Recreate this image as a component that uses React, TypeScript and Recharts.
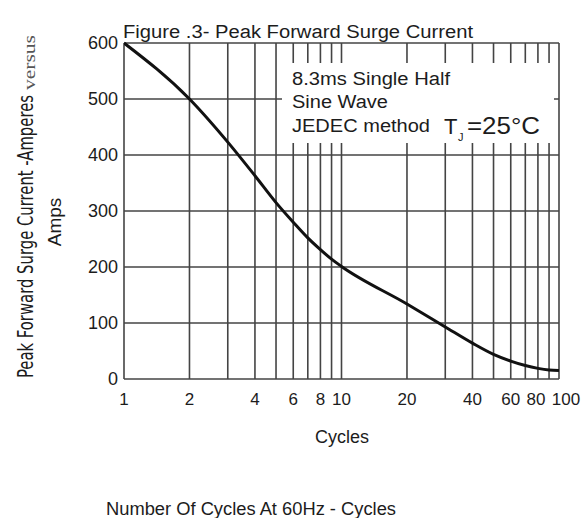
import React from 'react';
import { LineChart, Line, XAxis, YAxis, CartesianGrid } from 'recharts';

const cycles = [1, 2, 3, 4, 5, 6, 7, 8, 9, 10, 20, 30, 40, 50, 60, 70, 80, 90, 100];
const amps = [600, 500, 423, 363, 315, 280, 252, 231, 214, 201, 134, 93, 64, 44, 32, 24, 19, 16, 15];
const xGridTicks = [1, 2, 3, 4, 5, 6, 7, 8, 9, 10, 20, 30, 40, 50, 60, 70, 80, 90, 100];
const xLabelTicks = [1, 2, 4, 6, 8, 10, 20, 40, 60, 80, 100];
const yTicks = [0, 100, 200, 300, 400, 500, 600];

const data = cycles.map((c, i) => ({ cycles: c, amps: amps[i] }));

const FONT = "'Liberation Sans', Arial, sans-serif";
const TXT = '#1c1c1c';

const XTick = (props: any) => {
  const { x, y, payload } = props;
  const v = payload.value;
  if (!xLabelTicks.includes(v)) return null;
  const dx = v === 100 ? 7 : v === 80 ? -2 : 0;
  return (
    <text x={x + dx} y={y} dy="0.71em" textAnchor="middle" fontSize={17} fill={TXT} fontFamily={FONT}>
      {String(v)}
    </text>
  );
};

export default function App() {
  return (
    <div style={{ position: 'absolute', left: 0, top: 0, width: 584, height: 518, background: '#fff' }}>
      <LineChart
        width={584}
        height={518}
        data={data}
        margin={{ top: 43, right: 25, bottom: 109, left: 0 }}
      >
        <CartesianGrid stroke="#444" strokeWidth={1.6} />
        <XAxis
          dataKey="cycles"
          type="number"
          scale="log"
          domain={[1, 100]}
          allowDataOverflow
          ticks={xGridTicks}
          interval={0}
          axisLine={false}
          tickLine={false}
          tickMargin={8}
          height={30}
          tick={<XTick />}
        />
        <YAxis
          type="number"
          domain={[0, 600]}
          ticks={yTicks}
          interval={0}
          axisLine={false}
          tickLine={false}
          tickSize={4}
          tickMargin={2}
          width={124}
          tick={{ fontSize: 18, fill: TXT, fontFamily: FONT }}
        />
        <Line
          type="monotone"
          dataKey="amps"
          stroke="#111"
          strokeWidth={3}
          dot={false}
          isAnimationActive={false}
        />
      </LineChart>
      <svg
        width={584}
        height={518}
        style={{ position: 'absolute', left: 0, top: 0, pointerEvents: 'none' }}
      >
        <rect x={282} y={63} width={272} height={80} fill="#fff" />
        <text x={123} y={38} fontSize={18} fontFamily={FONT} fill={TXT} textLength={350} lengthAdjust="spacingAndGlyphs">
          Figure .3- Peak Forward Surge Current
        </text>
        <text x={292} y={85} fontSize={18} fontFamily={FONT} fill={TXT} textLength={158} lengthAdjust="spacingAndGlyphs">
          8.3ms Single Half
        </text>
        <text x={292} y={108} fontSize={18} fontFamily={FONT} fill={TXT} textLength={96} lengthAdjust="spacingAndGlyphs">
          Sine Wave
        </text>
        <text x={292} y={132} fontSize={18} fontFamily={FONT} fill={TXT} textLength={138} lengthAdjust="spacingAndGlyphs">
          JEDEC method
        </text>
        <text x={444} y={134} fontSize={22} fontFamily={FONT} fill={TXT}>T</text>
        <text x={458} y={141} fontSize={11} fontFamily={FONT} fill={TXT}>J</text>
        <text x={467} y={134} fontSize={23} fontFamily={FONT} fill={TXT} textLength={73} lengthAdjust="spacingAndGlyphs">
          =25°C
        </text>
        <text
          transform="translate(33,378) rotate(-90)"
          fontSize={21}
          fontFamily="'Liberation Sans Narrow', 'DejaVu Sans Condensed', sans-serif"
          fill={TXT}
          textLength={283}
          lengthAdjust="spacingAndGlyphs"
        >
          Peak Forward Surge Current -Amperes
        </text>
        <text
          transform="translate(35,90) rotate(-90)"
          fontSize={16}
          fontFamily="'Liberation Serif', 'DejaVu Serif', serif"
          fill="#555"
          textLength={55}
          lengthAdjust="spacingAndGlyphs"
        >
          versus
        </text>
        <text
          transform="translate(61,222) rotate(-90)"
          textAnchor="middle"
          fontSize={19}
          fontFamily={FONT}
          fill={TXT}
        >
          Amps
        </text>
        <text x={342} y={443} textAnchor="middle" fontSize={18} fontFamily={FONT} fill={TXT}>
          Cycles
        </text>
        <text x={251} y={515} textAnchor="middle" fontSize={18} fontFamily={FONT} fill={TXT} textLength={290} lengthAdjust="spacingAndGlyphs">
          Number Of Cycles At 60Hz - Cycles
        </text>
      </svg>
    </div>
  );
}
